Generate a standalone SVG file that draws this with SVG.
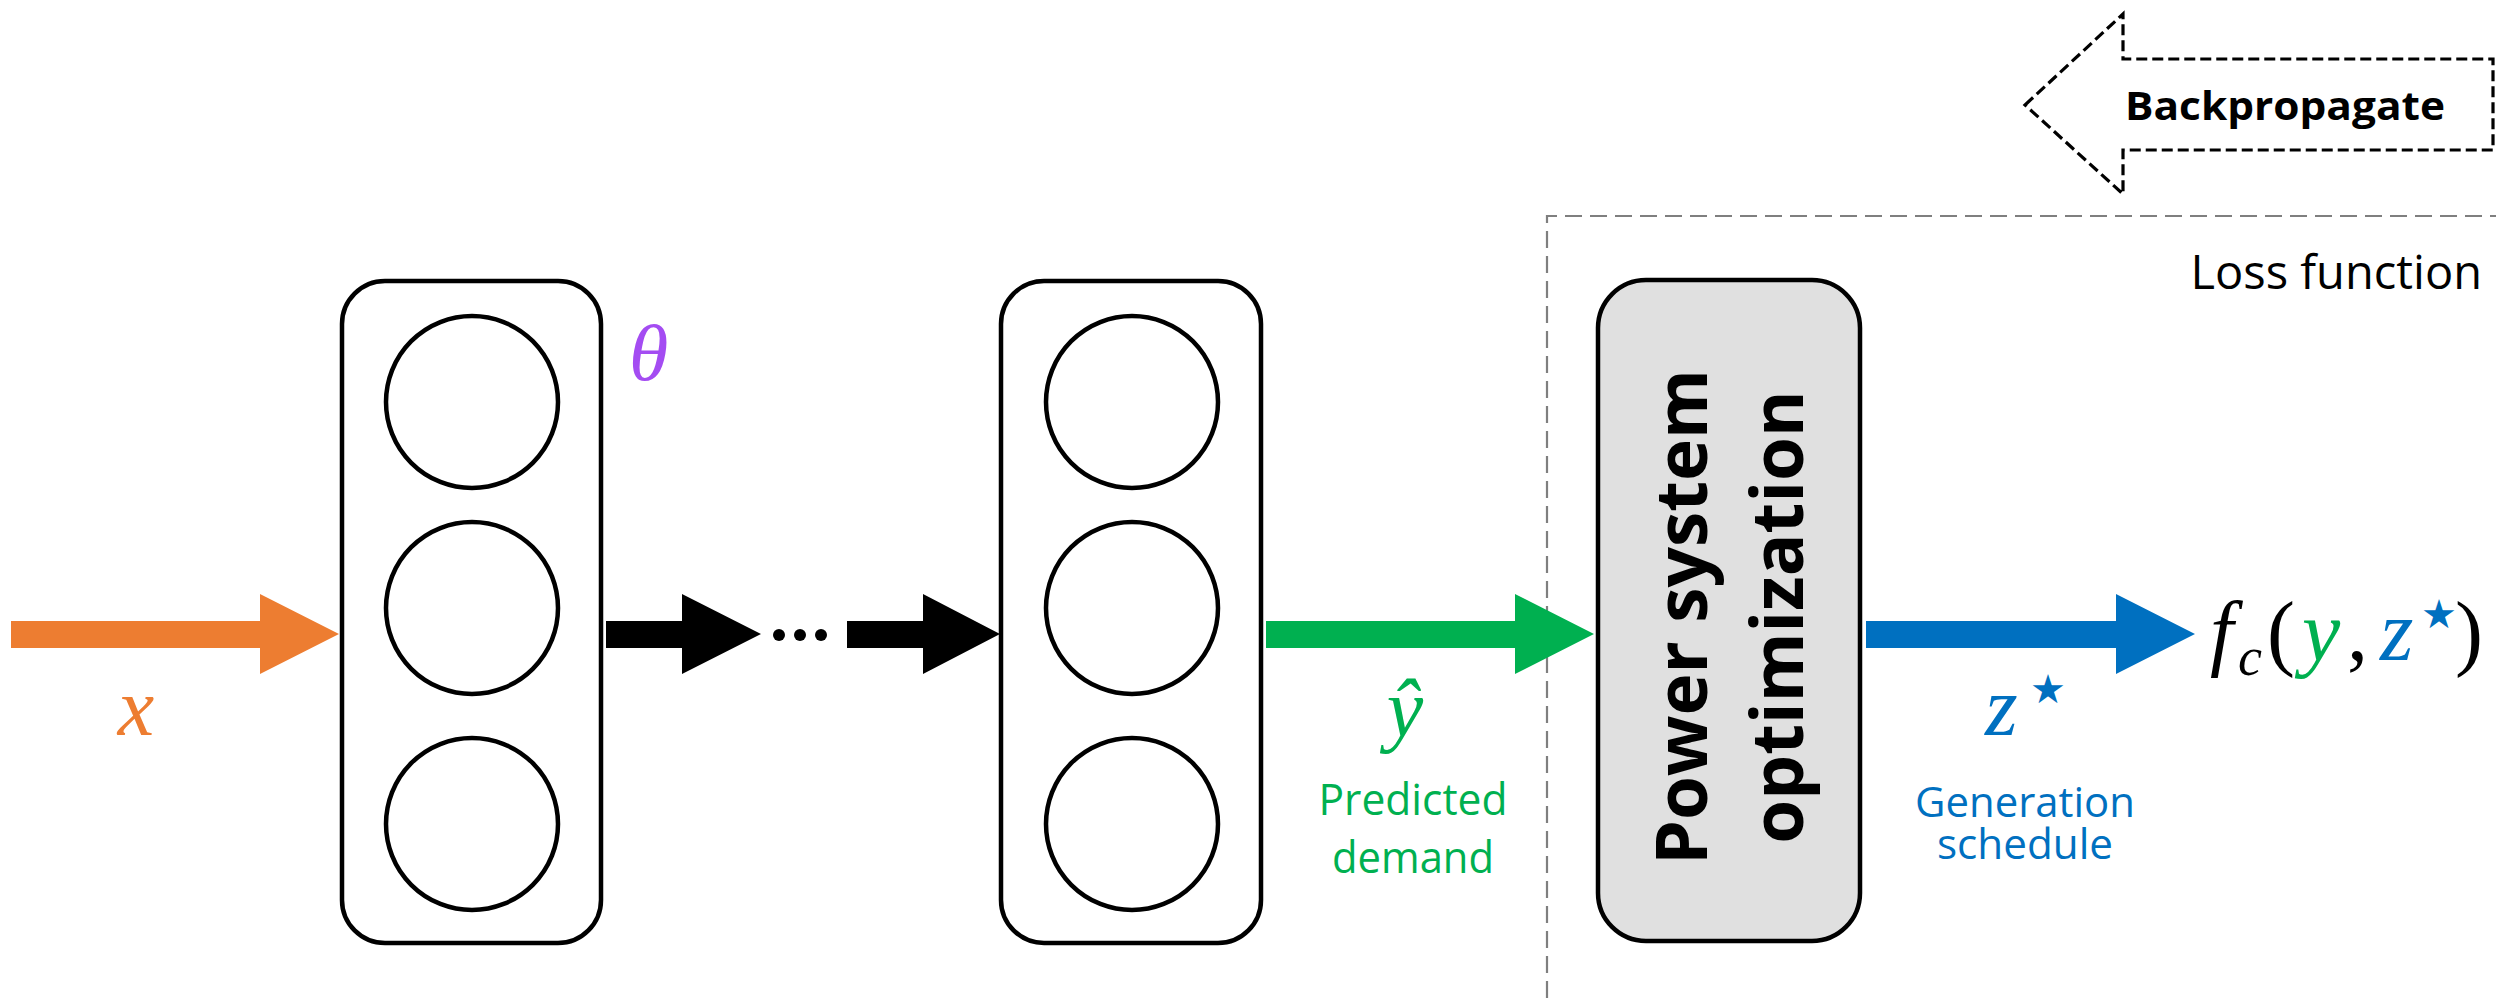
<svg xmlns="http://www.w3.org/2000/svg" width="2496" height="998" viewBox="0 0 2496 998">
  <style>
    .layer { fill: #ffffff; stroke: #000000; stroke-width: 4.5; }
    .neuron { fill: #ffffff; stroke: #000000; stroke-width: 4.5; }
    .opt { fill: #e0e0e0; stroke: #000000; stroke-width: 4.5; }
    .sans { font-family: "Open Sans", "Noto Sans", "Liberation Sans", sans-serif; }
    .math { font-family: "Liberation Serif", "DejaVu Serif", serif; font-style: italic; }
    .upright { font-family: "Liberation Serif", "DejaVu Serif", serif; font-style: normal; }
    .star { font-family: "DejaVu Sans", sans-serif; font-style: normal; }
    .bound { fill: none; stroke: #7f7f7f; stroke-width: 2.2; stroke-dasharray: 17 8; }
  </style>

  <!-- loss function boundary -->
  <g id="loss-region">
    <path class="bound" d="M1547,998 L1547,216 L2496,216"/>
    <text class="sans" x="2482" y="289" font-size="47" text-anchor="end" fill="#000">Loss function</text>
  </g>

  <!-- backpropagation hint -->
  <g id="backprop">
    <path d="M2025,105 L2123,14 L2123,59 L2493,59 L2493,150 L2123,150 L2123,194 Z" fill="#ffffff" stroke="#000" stroke-width="3.2" stroke-dasharray="11 5" stroke-linejoin="miter"/>
    <text class="sans" x="2125" y="120" font-size="40" font-weight="bold" textLength="320" lengthAdjust="spacingAndGlyphs" fill="#000">Backpropagate</text>
  </g>

  <!-- first hidden layer -->
  <g id="layer-1">
    <rect class="layer" x="342" y="281" width="259" height="662" rx="43" ry="43"/>
    <circle class="neuron" cx="472" cy="402" r="86"/>
    <circle class="neuron" cx="472" cy="608" r="86"/>
    <circle class="neuron" cx="472" cy="824" r="86"/>
  </g>
  <text id="theta" class="math" x="629" y="380" font-size="80" fill="#a44cf2">θ</text>

  <!-- last hidden layer -->
  <g id="layer-n">
    <rect class="layer" x="1001" y="281" width="260" height="662" rx="43" ry="43"/>
    <circle class="neuron" cx="1132" cy="402" r="86"/>
    <circle class="neuron" cx="1132" cy="608" r="86"/>
    <circle class="neuron" cx="1132" cy="824" r="86"/>
  </g>

  <!-- optimization layer -->
  <g id="power-opt">
    <rect class="opt" x="1598" y="280" width="262" height="661" rx="48" ry="48"/>
    <text class="sans" transform="translate(1707,617) rotate(-90)" x="0" y="0" font-size="71" font-weight="bold" text-anchor="middle" fill="#000">Power system</text>
    <text class="sans" transform="translate(1803,617) rotate(-90)" x="0" y="0" font-size="71" font-weight="bold" text-anchor="middle" fill="#000">optimization</text>
  </g>

  <!-- connectors -->
  <g id="connectors">
    <path id="edge-x" d="M11,621 L260,621 L260,594 L339,634 L260,674 L260,648 L11,648 Z" fill="#ed7d31"/>
    <path id="edge-h1" d="M606,621 L682,621 L682,594 L761,634 L682,674 L682,648 L606,648 Z" fill="#000"/>
    <g id="ellipsis" fill="#000">
      <circle cx="779" cy="635" r="6"/>
      <circle cx="800" cy="635" r="6"/>
      <circle cx="821" cy="635" r="6"/>
    </g>
    <path id="edge-h2" d="M847,621 L923,621 L923,594 L1000,634 L923,674 L923,648 L847,648 Z" fill="#000"/>
    <path id="edge-yhat" d="M1266,621 L1515,621 L1515,594 L1594,634 L1515,674 L1515,648 L1266,648 Z" fill="#00b050"/>
    <path id="edge-z" d="M1866,621 L2116,621 L2116,594 L2195,634 L2116,674 L2116,648 L1866,648 Z" fill="#0070c0"/>
  </g>

  <!-- edge labels -->
  <g id="label-x">
    <text class="math" x="136" y="735" font-size="82" text-anchor="middle" fill="#ed7d31">x</text>
  </g>
  <g id="label-yhat" fill="#00b050">
    <text class="math" x="1405" y="736" font-size="82" text-anchor="middle">ŷ</text>
    <text class="sans" x="1413" y="815" font-size="43" text-anchor="middle" textLength="189" lengthAdjust="spacingAndGlyphs">Predicted</text>
    <text class="sans" x="1413" y="873" font-size="43" text-anchor="middle" textLength="162" lengthAdjust="spacingAndGlyphs">demand</text>
  </g>
  <g id="label-z" fill="#0070c0">
    <text class="math" x="1985" y="735" font-size="84">z</text>
    <text class="star" x="2030" y="703" font-size="40">★</text>
    <text class="sans" x="2025" y="817" font-size="42" text-anchor="middle" textLength="220" lengthAdjust="spacingAndGlyphs">Generation</text>
    <text class="sans" x="2025" y="859" font-size="42" text-anchor="middle" textLength="176" lengthAdjust="spacingAndGlyphs">schedule</text>
  </g>

  <!-- task loss expression -->
  <g id="loss-expr">
    <text class="math" x="2210" y="660" font-size="84" fill="#000">f</text>
    <text class="math" x="2238" y="675" font-size="54" fill="#000">c</text>
    <text class="upright" x="2267" y="660" font-size="84" fill="#000">(</text>
    <text class="math" x="2302" y="660" font-size="86" fill="#00b050">y</text>
    <text class="upright" x="2347" y="660" font-size="84" fill="#000">,</text>
    <text class="math" x="2380" y="660" font-size="86" fill="#0070c0">z</text>
    <text class="star" x="2421" y="628" font-size="40" fill="#0070c0">★</text>
    <text class="upright" x="2455" y="660" font-size="84" fill="#000">)</text>
  </g>
</svg>
